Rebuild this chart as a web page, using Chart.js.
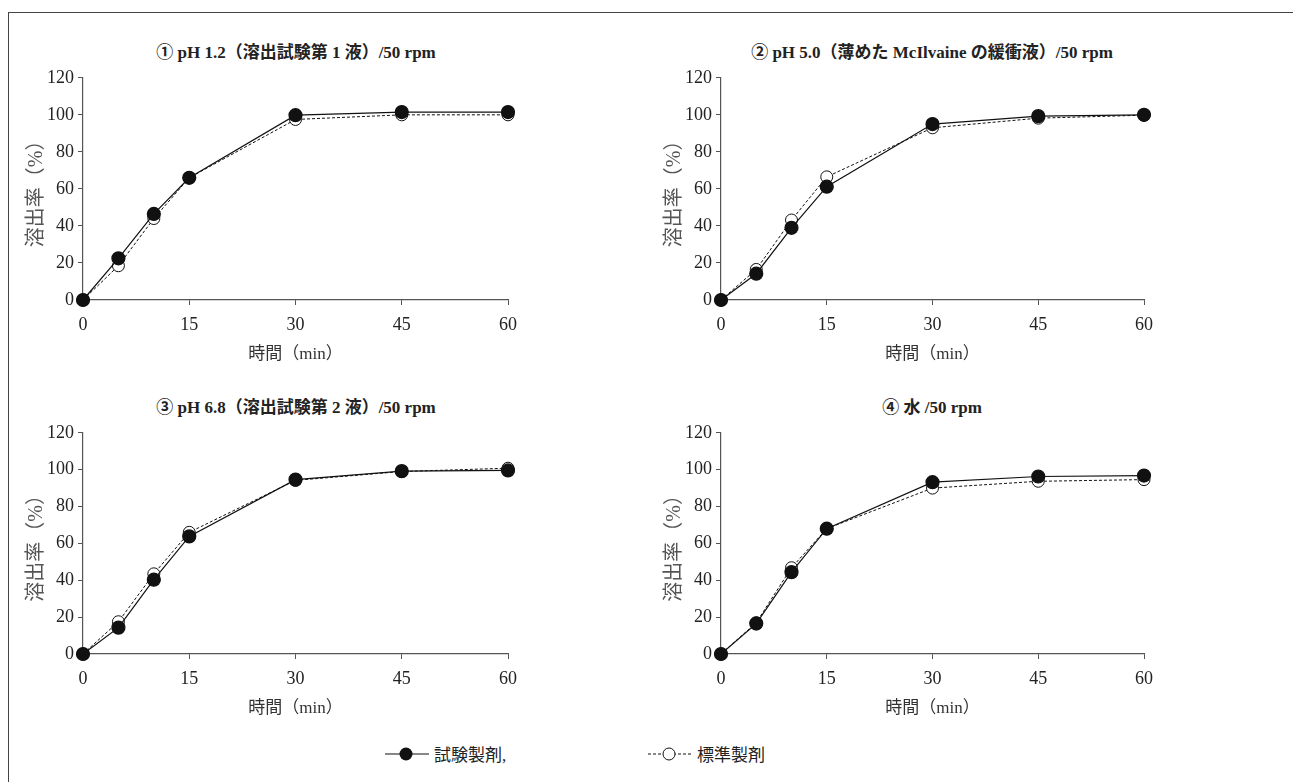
<!DOCTYPE html>
<html>
<head>
<meta charset="utf-8">
<script src="https://cdn.jsdelivr.net/npm/chart.js@4.4.1/dist/chart.umd.min.js"></script>
<style>
  body { margin: 0; background: #fff; width: 1293px; height: 782px; position: relative; overflow: hidden;
         font-family: "Liberation Serif", "Noto Sans CJK JP", serif; color: #222; }
  .frame { position: absolute; left: 8px; top: 12px; width: 1300px; height: 800px;
           border-top: 1.5px solid #444; border-left: 1.5px solid #444; }
  .box { position: absolute; }
  .title { position: absolute; font-weight: bold; font-size: 17px; white-space: nowrap; transform: translate(-50%, -50%); }
  .legend { position: absolute; top: 741px; font-size: 17px; white-space: nowrap; display: flex; align-items: center; }
  .legend svg { margin-right: 5px; }
</style>
</head>
<body>
<div class="frame"></div>

<div class="title" style="left:296px; top:50px;">① pH 1.2（溶出試験第 1 液）/50 rpm</div>
<div class="title" style="left:932px; top:50px;">② pH 5.0（薄めた McIlvaine の緩衝液）/50 rpm</div>
<div class="title" style="left:296px; top:405px;">③ pH 6.8（溶出試験第 2 液）/50 rpm</div>
<div class="title" style="left:932px; top:405px;">④ 水 /50 rpm</div>

<div class="box" style="left:20px; top:63px; width:506px; height:302px;"><canvas id="c1"></canvas></div>
<div class="box" style="left:658px; top:63px; width:504px; height:302px;"><canvas id="c2"></canvas></div>
<div class="box" style="left:20px; top:418px; width:506px; height:301px;"><canvas id="c3"></canvas></div>
<div class="box" style="left:658px; top:418px; width:504px; height:301px;"><canvas id="c4"></canvas></div>

<div class="legend" style="left:385px;">
  <svg width="44" height="20"><line x1="0" y1="10" x2="44" y2="10" stroke="#111" stroke-width="1.2"/><circle cx="21" cy="10" r="6.5" fill="#111"/></svg>
  <span>試験製剤,</span>
</div>
<div class="legend" style="left:648px;">
  <svg width="44" height="20"><line x1="0" y1="10" x2="44" y2="10" stroke="#111" stroke-width="1" stroke-dasharray="3,2"/><circle cx="21" cy="10" r="6" fill="#fff" stroke="#111" stroke-width="1"/></svg>
  <span>標準製剤</span>
</div>

<script>
const times = [0, 5, 10, 15, 30, 45, 60];

const test1 = [0, 22.5, 46.5, 66, 99.8, 101.5, 101.5];
const ref1  = [0, 18.5, 44, 66, 97.5, 100, 100];
const test2 = [0, 14.2, 39, 61.2, 95, 99.3, 100];
const ref2  = [0, 16.5, 43.2, 66.5, 93, 98.2, 99.8];
const test3 = [0, 14.3, 40.3, 63.8, 94.6, 99.2, 99.6];
const ref3  = [0, 17.5, 43.5, 66, 94.2, 99, 100.8];
const test4 = [0, 16.5, 44.4, 68, 93.2, 96.3, 96.8];
const ref4  = [0, 17, 46.8, 68, 90, 93.7, 94.6];

const yTitle = '溶出率（%）';
const xTitle = '時間（min）';
const fontFamily = '"Liberation Serif", "Noto Sans CJK JP", serif';

function toPoints(values) {
  return values.map((v, i) => ({ x: times[i], y: v }));
}

function createChart(canvasId, testValues, refValues) {
  const ctx = document.getElementById(canvasId).getContext('2d');
  new Chart(ctx, {
    type: 'line',
    data: {
      datasets: [{
        label: '試験製剤',
        data: toPoints(testValues),
        borderColor: '#111',
        borderWidth: 1.2,
        backgroundColor: '#111',
        pointBackgroundColor: '#111',
        pointBorderColor: '#111',
        pointRadius: 6.5,
        tension: 0,
        clip: false
      }, {
        label: '標準製剤',
        data: toPoints(refValues),
        borderColor: '#111',
        borderWidth: 1,
        borderDash: [3, 2],
        pointBackgroundColor: '#fff',
        pointBorderColor: '#111',
        pointBorderWidth: 1,
        pointRadius: 6,
        tension: 0,
        clip: false
      }]
    },
    options: {
      responsive: true,
      maintainAspectRatio: false,
      animation: false,
      layout: { autoPadding: false, padding: { top: 10, right: 18, left: 0, bottom: 0 } },
      plugins: { legend: { display: false }, tooltip: { enabled: false } },
      scales: {
        x: {
          type: 'linear',
          min: 0, max: 60,
          ticks: { stepSize: 15, color: '#222', padding: 9, font: { family: fontFamily, size: 18 } },
          grid: { drawOnChartArea: false, drawTicks: true, tickLength: 5, color: '#555' },
          border: { display: true, color: '#555', width: 1.2 },
          title: { display: true, text: xTitle, color: '#333', padding: { top: 4, bottom: 0 }, font: { family: fontFamily, size: 17 } },
          afterFit: scale => { scale.height = 65; }
        },
        y: {
          min: 0, max: 120,
          ticks: { stepSize: 20, color: '#222', padding: 4, font: { family: fontFamily, size: 18 } },
          grid: { drawOnChartArea: false, drawTicks: true, tickLength: 5, color: '#555' },
          border: { display: true, color: '#555', width: 1.2 },
          title: { display: true, text: yTitle, color: '#555', padding: { top: 5, bottom: 0 }, font: { family: fontFamily, size: 20 } },
          afterFit: scale => { scale.width = 63; }
        }
      }
    }
  });
}

createChart('c1', test1, ref1);
createChart('c2', test2, ref2);
createChart('c3', test3, ref3);
createChart('c4', test4, ref4);
</script>
</body>
</html>
